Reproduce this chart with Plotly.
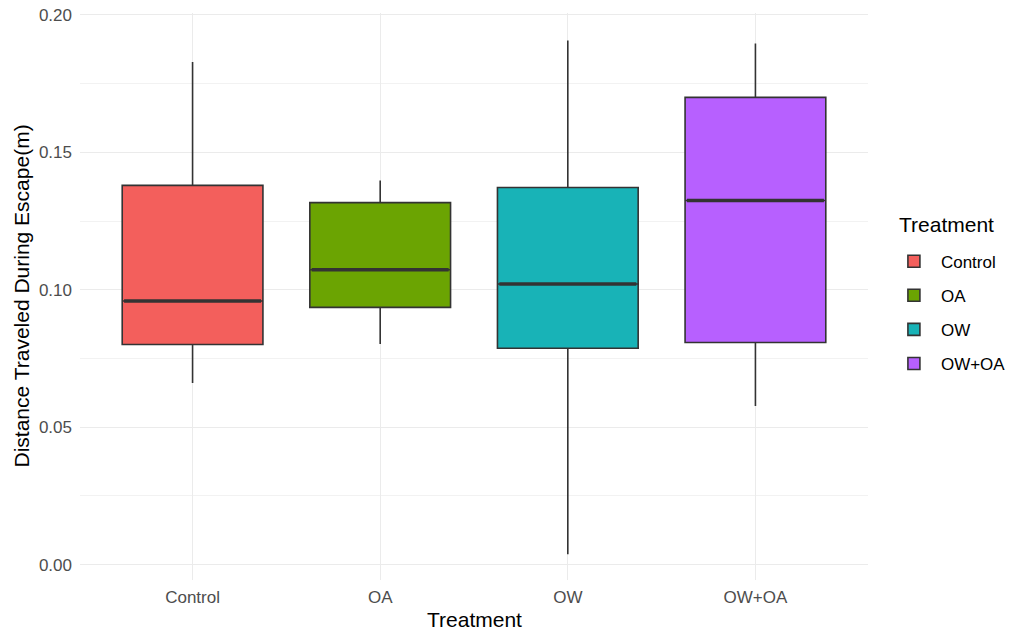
import plotly.graph_objects as go

categories = ["Control", "OA", "OW", "OW+OA"]
lower_whisker = [0.0661, 0.0803, 0.0038, 0.0577]
q1 = [0.0801, 0.0936, 0.0787, 0.0808]
median = [0.0959, 0.1073, 0.1021, 0.1325]
q3 = [0.1380, 0.1317, 0.1372, 0.1700]
upper_whisker = [0.1829, 0.1398, 0.1907, 0.1896]
colors = ["#F35F5C", "#6BA402", "#18B3B7", "#B760FF"]
y_ticks = [0.00, 0.05, 0.10, 0.15, 0.20]

fig = go.Figure()
for i, cat in enumerate(categories):
    xpos = i + 1
    fig.add_trace(go.Box(
        x=[xpos], q1=[q1[i]], median=[median[i]], q3=[q3[i]],
        lowerfence=[lower_whisker[i]], upperfence=[upper_whisker[i]],
        name=cat, legendgroup=cat, fillcolor=colors[i],
        line=dict(color="#333333", width=1.6),
        whiskerwidth=0, width=0.75, boxpoints=False, hoverinfo="skip",
    ))
for i, cat in enumerate(categories):
    xpos = i + 1
    fig.add_trace(go.Scatter(
        x=[xpos - 0.375 + 0.01, xpos + 0.375 - 0.01], y=[median[i], median[i]],
        mode="lines", line=dict(color="#333333", width=3.4),
        showlegend=False, hoverinfo="skip",
    ))

W, H = 1013, 632
L, R, T, B = 80, 145, 13, 52

fig.update_layout(
    width=W, height=H,
    margin=dict(l=L, r=R, t=T, b=B, autoexpand=False),
    plot_bgcolor="white", paper_bgcolor="white",
    font=dict(family="Liberation Sans, Arial, sans-serif", color="#000000"),
    showlegend=True,
    legend=dict(
        x=1.024, xanchor="left", y=(H - B - 262) / (H - T - B) + 0.02 + 7 / (H - T - B), yanchor="top",
        font=dict(size=17, color="#000000"),
        tracegroupgap=9, itemwidth=44,
    ),
    xaxis=dict(
        range=[0.4, 4.6], tickmode="array", tickvals=[1, 2, 3, 4], ticktext=categories,
        showgrid=True, gridcolor="#EBEBEB", gridwidth=1.3, zeroline=False,
        showline=False, ticks="", tickfont=dict(size=17, color="#4D4D4D"),
        automargin=False, ticklabelstandoff=5,
    ),
    yaxis=dict(
        range=[-0.0056, 0.2007], tickmode="array", tickvals=y_ticks,
        ticktext=[f"{v:.2f}" for v in y_ticks],
        showgrid=True, gridcolor="#EBEBEB", gridwidth=1.3, zeroline=False,
        showline=False, ticks="", tickfont=dict(size=17, color="#4D4D4D"),
        minor=dict(dtick=0.025, tick0=0, showgrid=True, gridcolor="#F2F2F2", gridwidth=0.8),
        automargin=False, ticklabelstandoff=7,
    ),
    annotations=[
        dict(text="Treatment", xref="paper", yref="paper",
             x=0.5, y=-(619 - (H - B)) / (H - T - B), xanchor="center", yanchor="middle",
             showarrow=False, font=dict(size=21, color="#000000")),
        dict(text="Distance Traveled During Escape(m)", xref="paper", yref="paper",
             x=-(L - 21) / (W - L - R), y=0.5, xanchor="center", yanchor="middle",
             textangle=-90, showarrow=False, font=dict(size=21, color="#000000")),
        dict(text="Treatment", xref="paper", yref="paper",
             x=(897 - L) / (W - L - R), y=(H - B - 224) / (H - T - B), xanchor="left", yanchor="middle",
             showarrow=False, font=dict(size=21, color="#000000")),
    ],
)

fig.write_html("out.html", post_script="document.body.style.margin='0';",
               config={"displayModeBar": False})
